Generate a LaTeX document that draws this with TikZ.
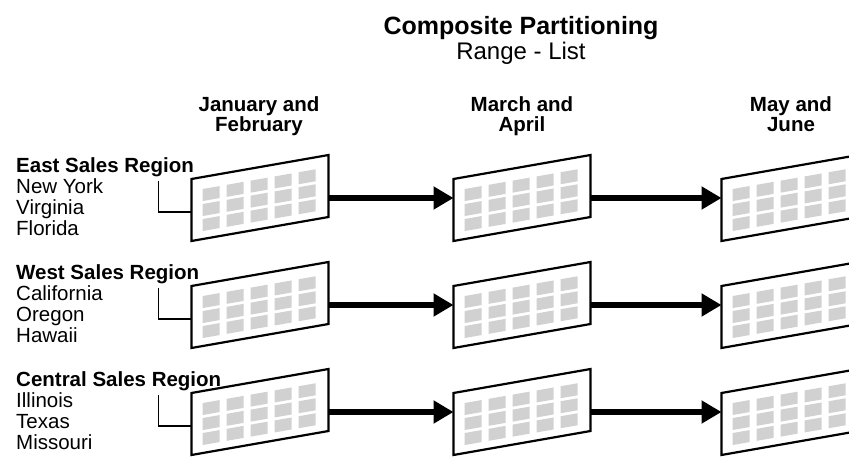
\documentclass[tikz,border=0pt]{standalone}
\usepackage{fontspec}
\setmainfont{Liberation Sans}
\usetikzlibrary{positioning, arrows.meta}

\tikzset{
    pics/sheet/.style={code={
        \begin{scope}[yslant=0.175]
        \draw[line width=2.2pt, fill=white] (-68.5,-31) rectangle (68.5,31);
        \foreach \i in {0,...,4}
            \foreach \j in {0,1,2} {
                \fill[black!18] (-57.5+24*\i,19-15*\j) rectangle ++(17,-12);
            }
        \end{scope}
        \coordinate (-w) at (-68.5,0);
        \coordinate (-e) at (68.5,0);
        \coordinate (-b) at (-68.5,-14);
    }}
}

\begin{document}
\begin{tikzpicture}[
    x=1pt, y=1pt,
    titlenode/.style={font=\bfseries\fontsize{25}{26}\selectfont, inner sep=0pt},
    subnode/.style={font=\fontsize{24}{26}\selectfont, inner sep=0pt},
    colhead/.style={font=\bfseries\fontsize{20.5}{20}\selectfont, align=center, inner sep=0pt, anchor=north},
    region/.style={font=\fontsize{20.5}{21}\selectfont, align=left, inner sep=0pt, anchor=north west},
    arr/.style={-{Triangle[length=20pt, width=22pt]}, line width=5.5pt},
    bracket/.style={line width=1.2pt}
]

\useasboundingbox (0,0) rectangle (849,456);
\clip (0,0) rectangle (849,456);

% Title
\node[titlenode, anchor=base] (title) at (521,421.7) {Composite Partitioning};
\node[subnode, anchor=base] (sub) at (521,396) {Range - List};

% Column headers
\node[colhead] (jan) at (259,359.5) {January and\\February};
\node[colhead] (mar) at (522,359.5) {March and\\April};
\node[colhead] (may) at (791,359.5) {May and\\June};

% Sheets
\foreach \r/\ry in {east/258, west/151, central/44}
    \foreach \c/\cx in {jan/260, mar/522, may/790} {
        \pic (\c-\r) at (\cx,\ry) {sheet};
    }

% Arrows between periods
\foreach \r in {east, west, central} {
    \draw[arr] (jan-\r-e) -- (mar-\r-w);
    \draw[arr] (mar-\r-e) -- (may-\r-w);
    \draw[bracket] ([xshift=-33pt, yshift=31pt]jan-\r-b) |- (jan-\r-b);
}

% Regions
\node[region] (east) at (16,299) {\textbf{East Sales Region}\\New York\\Virginia\\Florida};
\node[region] (west) at (16,192) {\textbf{West Sales Region}\\California\\Oregon\\Hawaii};
\node[region] (central) at (16,85) {\textbf{Central Sales Region}\\Illinois\\Texas\\Missouri};

\end{tikzpicture}
\end{document}
